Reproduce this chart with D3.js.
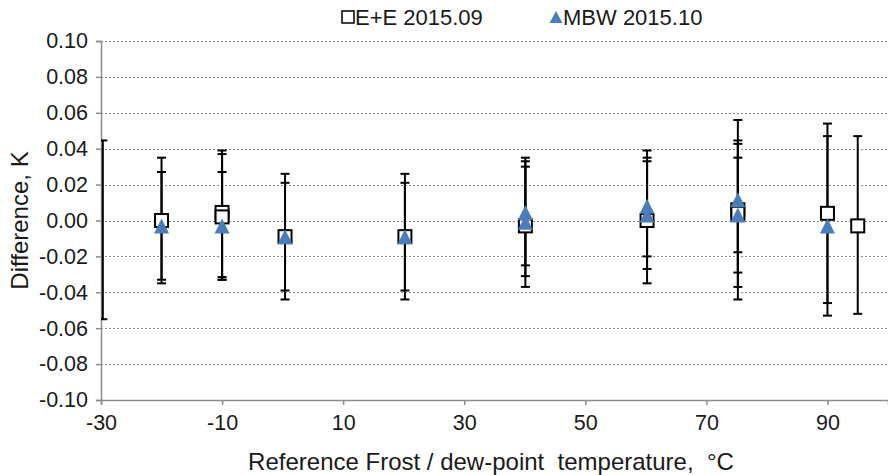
<!doctype html>
<html>
<head>
<script src="https://cdn.jsdelivr.net/npm/d3@7/dist/d3.min.js"></script>
<style>
  body { margin: 0; background: #fff; }
  text { font-family: "Liberation Sans", Arial, sans-serif; fill: #1a1a1a; }
</style>
</head>
<body>
<svg width="888" height="475"></svg>
<script>
// E+E 2015.09 (squares) - value and error bar ends
var eeX  = [-20, -10, -10, 0.4, 20.2, 40.1, 60.2, 75.2, 75.2, 90, 95];
var eeY  = [0.000, 0.0045, 0.002, -0.009, -0.009, -0.003, 0.000, 0.006, 0.004, 0.004, -0.003];
var eeHi = [0.035, 0.039, 0.037, 0.026, 0.026, 0.033, 0.035, 0.056, 0.0446, 0.054, 0.047];
var eeLo = [-0.035, -0.0315, -0.033, -0.044, -0.044, -0.037, -0.035, -0.044, -0.037, -0.046, -0.052];

// MBW 2015.10 (triangles)
var mbwX  = [-20, -10, 0.4, 20.2, 40.1, 40.1, 60.2, 60.2, 75.2, 75.2, 90];
var mbwY  = [-0.003, -0.003, -0.009, -0.009, 0.0045, -0.001, 0.008, 0.003, 0.0115, 0.003, -0.003];
var mbwHi = [0.027, 0.027, 0.021, 0.021, 0.035, 0.030, 0.039, 0.033, 0.0427, 0.035, 0.047];
var mbwLo = [-0.033, -0.033, -0.039, -0.039, -0.025, -0.031, -0.020, -0.027, -0.0177, -0.029, -0.053];

// bar with no visible marker at the left edge
var edgeX  = [-29.7];
var edgeHi = [0.0446];
var edgeLo = [-0.055];

var xTicks = [-30, -10, 10, 30, 50, 70, 90];
var yTicks = [-0.10, -0.08, -0.06, -0.04, -0.02, 0.00, 0.02, 0.04, 0.06, 0.08, 0.10];

var svg = d3.select("svg");
var pLeft = 101, pRight = 888, pTop = 41, pBottom = 400;

var x = d3.scaleLinear().domain([-30, 100]).range([pLeft, pRight]);
var y = d3.scaleLinear().domain([-0.10, 0.10]).range([pBottom, pTop]);

svg.append("clipPath").attr("id", "plot")
  .append("rect").attr("x", pLeft).attr("y", 0).attr("width", pRight - pLeft).attr("height", 475);

// gridlines
svg.append("g").selectAll("line")
  .data(yTicks.filter(function(d) { return d > -0.1; }))
  .enter().append("line")
  .attr("x1", pLeft).attr("x2", pRight)
  .attr("y1", function(d) { return Math.round(y(d)) + 0.5; })
  .attr("y2", function(d) { return Math.round(y(d)) + 0.5; })
  .style("stroke", "#8a8a8a")
  .style("stroke-width", 1.2)
  .style("stroke-dasharray", "2,2");

// axes
var gy = svg.append("g")
  .attr("transform", "translate(" + pLeft + ",0)")
  .call(d3.axisLeft(y).tickValues(yTicks).tickSize(5).tickPadding(8)
    .tickFormat(function(d) { return d.toFixed(2); }));
var gx = svg.append("g")
  .attr("transform", "translate(0," + pBottom + ")")
  .call(d3.axisBottom(x).tickValues(xTicks).tickSize(5).tickPadding(10)
    .tickFormat(function(d) { return String(d); }));
[gx, gy].forEach(function(g) {
  g.select(".domain").style("stroke", "#8c8c8c").style("stroke-width", 1.5);
  g.selectAll(".tick line").style("stroke", "#8c8c8c").style("stroke-width", 1.5);
  g.selectAll(".tick text").style("font-size", "21.5px").style("fill", "#1a1a1a")
    .style("font-family", "Liberation Sans, Arial, sans-serif");
});

// error bars
function bars(xs, lo, hi) {
  var g = svg.append("g").attr("clip-path", "url(#plot)");
  var idx = d3.range(xs.length);
  g.selectAll(".v").data(idx).enter().append("line")
    .attr("x1", function(i) { return x(xs[i]); })
    .attr("x2", function(i) { return x(xs[i]); })
    .attr("y1", function(i) { return y(hi[i]); })
    .attr("y2", function(i) { return y(lo[i]); })
    .style("stroke", "#000").style("stroke-width", 2);
  [hi, lo].forEach(function(arr) {
    g.selectAll(null).data(idx).enter().append("line")
      .attr("x1", function(i) { return x(xs[i]) - 4.5; })
      .attr("x2", function(i) { return x(xs[i]) + 4.5; })
      .attr("y1", function(i) { return y(arr[i]); })
      .attr("y2", function(i) { return y(arr[i]); })
      .style("stroke", "#000").style("stroke-width", 2);
  });
}
bars(edgeX, edgeLo, edgeHi);
bars(eeX, eeLo, eeHi);
bars(mbwX, mbwLo, mbwHi);

// squares
svg.append("g").selectAll("rect")
  .data(d3.range(eeX.length))
  .enter().append("rect")
  .attr("x", function(i) { return x(eeX[i]) - 6.5; })
  .attr("y", function(i) { return y(eeY[i]) - 6.5; })
  .attr("width", 13).attr("height", 13)
  .style("fill", "#fff").style("stroke", "#000").style("stroke-width", 2);

// triangles
function tri(cx, cy, h, w) {
  return "M" + cx + "," + (cy - h / 2) + "L" + (cx + w / 2) + "," + (cy + h / 2) +
         "L" + (cx - w / 2) + "," + (cy + h / 2) + "Z";
}
svg.append("g").selectAll("path")
  .data(d3.range(mbwX.length))
  .enter().append("path")
  .attr("d", function(i) { return tri(x(mbwX[i]), y(mbwY[i]), 15, 15); })
  .style("fill", "#4a7ebb");

// axis titles
svg.append("text")
  .attr("transform", "translate(28," + ((pTop + pBottom) / 2) + ")rotate(-90)")
  .attr("text-anchor", "middle")
  .style("font-size", "24px")
  .text("Difference, K");

svg.append("text")
  .attr("x", 491).attr("y", 470)
  .attr("text-anchor", "middle")
  .style("font-size", "24px")
  .style("white-space", "pre")
  .text("Reference Frost / dew-point  temperature,  \u00B0C");

// legend
var leg = svg.append("g");
leg.append("rect").attr("x", 342).attr("y", 11).attr("width", 12).attr("height", 12)
  .style("fill", "#fff").style("stroke", "#000").style("stroke-width", 1.5);
leg.append("text").attr("x", 355).attr("y", 25).style("font-size", "22px").text("E+E 2015.09");
leg.append("path").attr("d", tri(556, 17, 12, 13)).style("fill", "#4a7ebb");
leg.append("text").attr("x", 563).attr("y", 25).style("font-size", "22px").text("MBW 2015.10");
</script>
</body>
</html>
